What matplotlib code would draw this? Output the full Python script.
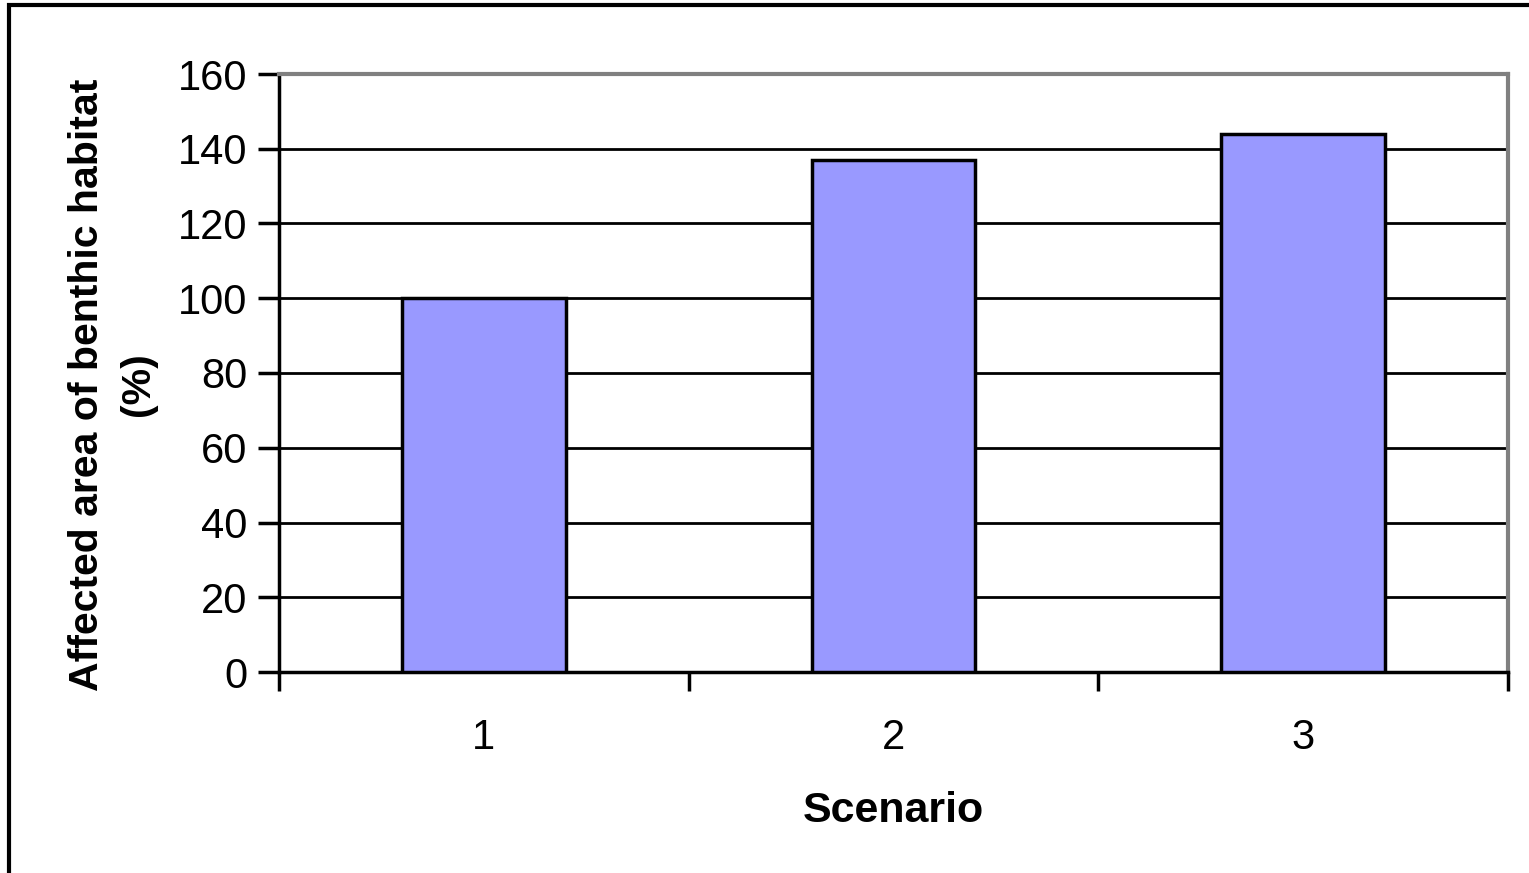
import matplotlib.pyplot as plt
from matplotlib.patches import Rectangle
from matplotlib.ticker import FixedLocator, NullFormatter

scenarios = ['1', '2', '3']
affected_area = [100, 137, 144]

plt.rcParams['font.family'] = ['Liberation Sans', 'DejaVu Sans']

fig = plt.figure(figsize=(15.29, 8.73), dpi=100)
ax = fig.add_axes([279 / 1529, 1 - 672 / 873, 1229 / 1529, 598 / 873])

x = range(len(scenarios))
ax.bar(x, affected_area, width=0.4, color='#9999ff', edgecolor='black',
       linewidth=2.5, zorder=3)

ax.set_xlim(-0.5, len(scenarios) - 0.5)
ax.set_ylim(0, 160)
ax.set_yticks(range(0, 161, 20))
ax.yaxis.grid(True, color='black', linewidth=2)
ax.set_axisbelow(True)

# category boundaries carry the tick marks, labels sit in the middle
ax.xaxis.set_major_locator(FixedLocator([i - 0.5 for i in range(len(scenarios) + 1)]))
ax.xaxis.set_major_formatter(NullFormatter())
ax.set_xticks(list(x), scenarios, minor=True)
ax.tick_params(axis='x', which='major', length=14, width=2.5, direction='out')
ax.tick_params(axis='x', which='minor', length=0, pad=33, labelsize=30)
ax.tick_params(axis='y', length=15, width=2.5, direction='out', pad=8, labelsize=30)

for side in ['left', 'bottom']:
    ax.spines[side].set_linewidth(2.5)
    ax.spines[side].set_color('black')
for side in ['top', 'right']:
    ax.spines[side].set_linewidth(3)
    ax.spines[side].set_color('#808080')

ax.set_xlabel('Scenario', fontsize=31, fontweight='bold', labelpad=24)
ax.set_ylabel('Affected area of benthic habitat\n(%)', fontsize=29.5,
              fontweight='bold', linespacing=1.45)
ax.yaxis.set_label_coords(-0.099, 0.481)

# chart frame
fig.patches.append(Rectangle((9 / 1529, -0.1), 1.2, 1 - 5 / 873 + 0.1,
                             transform=fig.transFigure, fill=False,
                             edgecolor='black', linewidth=3))

fig.savefig('out.png', dpi=100)
